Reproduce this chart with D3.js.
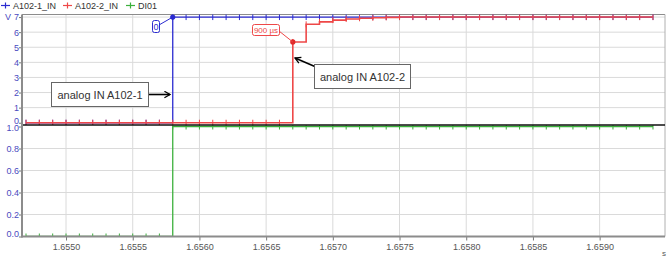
<!DOCTYPE html>
<html>
<head>
<meta charset="utf-8">
<script src="https://cdn.jsdelivr.net/npm/d3@7"></script>
<style>
  body { margin: 0; background: #fff; }
  svg { font-family: "Liberation Sans", Arial, sans-serif; }
</style>
</head>
<body>
<div id="chart"></div>
<script>
// sample times (s), one every 100 µs
var times = [1.6547, 1.6548, 1.6549, 1.6550, 1.6551, 1.6552, 1.6553, 1.6554, 1.6555, 1.6556,
  1.6557, 1.6558, 1.6559, 1.6560, 1.6561, 1.6562, 1.6563, 1.6564, 1.6565, 1.6566,
  1.6567, 1.6568, 1.6569, 1.6570, 1.6571, 1.6572, 1.6573, 1.6574, 1.6575, 1.6576,
  1.6577, 1.6578, 1.6579, 1.6580, 1.6581, 1.6582, 1.6583, 1.6584, 1.6585, 1.6586,
  1.6587, 1.6588, 1.6589, 1.6590, 1.6591, 1.6592, 1.6593, 1.6594];

// A102-1_IN (V)
var a1021 = [0, 0, 0, 0, 0, 0, 0, 0, 0, 0,
  0, 7, 7, 7, 7, 7, 7, 7, 7, 7,
  7, 7, 7, 7, 7, 7, 7, 7, 7, 7,
  7, 7, 7, 7, 7, 7, 7, 7, 7, 7,
  7, 7, 7, 7, 7, 7, 7, 7];

// A102-2_IN (V)
var a1022 = [0, 0, 0, 0, 0, 0, 0, 0, 0, 0,
  0, 0, 0, 0, 0, 0, 0, 0, 0, 0,
  5.35, 6.52, 6.68, 6.8, 6.87, 6.92, 6.95, 6.98, 7, 7,
  7, 7, 7, 7, 7, 7, 7, 7, 7, 7,
  7, 7, 7, 7, 7, 7, 7, 7];

// DI01
var di01 = [0, 0, 0, 0, 0, 0, 0, 0, 0, 0,
  0, 1, 1, 1, 1, 1, 1, 1, 1, 1,
  1, 1, 1, 1, 1, 1, 1, 1, 1, 1,
  1, 1, 1, 1, 1, 1, 1, 1, 1, 1,
  1, 1, 1, 1, 1, 1, 1, 1];

var xTicks = [1.6550, 1.6555, 1.6560, 1.6565, 1.6570, 1.6575, 1.6580, 1.6585, 1.6590];
var vTicks = [0, 1, 2, 3, 4, 5, 6, 7];
var dTicks = [0, 0.2, 0.4, 0.6, 0.8, 1.0];

var seriesNames = ['A102-1_IN', 'A102-2_IN', 'DI01'];
var seriesColors = ['#2b2bd0', '#ee4848', '#3cb03c'];

var svgWidth = 670, svgHeight = 261;
var left = 22, right = 665;
var topY = 14.5, midY = 125, bottomTop = 126.5, bottomY = 236.5;

var svg = d3.select('#chart').append('svg')
  .attr('width', svgWidth)
  .attr('height', svgHeight);

var x = d3.scaleLinear().domain([1.65467, 1.65949]).range([left, right]);
var yV = d3.scaleLinear().domain([-0.15, 7.17]).range([midY, topY]);
var yD = d3.scaleLinear().domain([0, 1]).range([bottomY, bottomTop]);

// clip areas
var defs = svg.append('defs');
defs.append('clipPath').attr('id', 'clipTop').append('rect')
  .attr('x', left).attr('y', topY).attr('width', right - left).attr('height', midY - topY);
defs.append('clipPath').attr('id', 'clipBot').append('rect')
  .attr('x', left).attr('y', midY).attr('width', right - left).attr('height', bottomY - midY);
defs.append('marker').attr('id', 'arrow')
  .attr('viewBox', '0 0 10 10').attr('refX', 8).attr('refY', 5)
  .attr('markerWidth', 5).attr('markerHeight', 5).attr('orient', 'auto')
  .append('path').attr('d', 'M1,1L8,5L1,9').attr('fill', 'none')
  .attr('stroke', '#000').attr('stroke-width', 1.6);

// grid
var grid = svg.append('g').attr('stroke', '#dadada').attr('stroke-width', 1);
grid.selectAll('.vx').data(xTicks).enter().append('line')
  .attr('x1', d => x(d)).attr('x2', d => x(d)).attr('y1', topY).attr('y2', bottomY);
grid.selectAll('.hv').data(vTicks.slice(1)).enter().append('line')
  .attr('x1', left).attr('x2', right).attr('y1', d => yV(d)).attr('y2', d => yV(d));
grid.selectAll('.hd').data(dTicks.slice(1, 5)).enter().append('line')
  .attr('x1', left).attr('x2', right).attr('y1', d => yD(d)).attr('y2', d => yD(d));

// frame
svg.append('line').attr('x1', left).attr('x2', right).attr('y1', topY).attr('y2', topY)
  .attr('stroke', '#8c8c8c');
svg.append('line').attr('x1', right).attr('x2', right).attr('y1', topY).attr('y2', bottomY)
  .attr('stroke', '#b0b0b0');

function drawSeries(g, vals, yScale, color, w) {
  var pts = times.map((t, i) => [t, vals[i]]);
  g.append('path').datum(pts)
    .attr('fill', 'none').attr('stroke', color).attr('stroke-width', w)
    .attr('d', d3.line().x(d => x(d[0])).y(d => yScale(d[1])).curve(d3.curveStepAfter));
  g.selectAll(null).data(pts).enter().append('line')
    .attr('x1', d => x(d[0])).attr('x2', d => x(d[0]))
    .attr('y1', d => yScale(d[1]) - 3).attr('y2', d => yScale(d[1]) + 3)
    .attr('stroke', color).attr('stroke-width', 1);
}

var topG = svg.append('g').attr('clip-path', 'url(#clipTop)');
drawSeries(topG, a1021, yV, seriesColors[0], 1.3);
drawSeries(topG, a1022, yV, seriesColors[1], 1.6);
var botG = svg.append('g').attr('clip-path', 'url(#clipBot)');
drawSeries(botG, di01, yD, seriesColors[2], 1.3);

// panel divider
svg.append('line').attr('x1', left).attr('x2', right).attr('y1', midY).attr('y2', midY)
  .attr('stroke', '#111').attr('stroke-width', 1.5);

// axes
var leftAxisTop = svg.append('g').attr('transform', `translate(${left},0)`)
  .call(d3.axisLeft(yV).tickValues(vTicks).tickSize(3).tickFormat(d3.format('d')));
var leftAxisBot = svg.append('g').attr('transform', `translate(${left},0)`)
  .call(d3.axisLeft(yD).tickValues(dTicks).tickSize(3).tickFormat(d3.format('.1f')));
[leftAxisTop, leftAxisBot].forEach(a => {
  a.select('.domain').remove();
  a.selectAll('line').attr('stroke', '#777');
  a.selectAll('text').attr('fill', '#4a4ac0').attr('font-size', 9)
    .attr('font-family', '"Liberation Sans", Arial, sans-serif').attr('x', -3);
});
leftAxisTop.selectAll('.tick').filter(d => d === 0).select('text').attr('dy', '0.05em');
leftAxisBot.selectAll('.tick').filter(d => d === 0).select('text').attr('dy', '0.0em');
leftAxisBot.selectAll('.tick').filter(d => d === 1).select('text').attr('dy', '0.4em');
svg.append('line').attr('x1', left).attr('x2', left).attr('y1', topY).attr('y2', bottomY + 1)
  .attr('stroke', '#8c8c8c').attr('stroke-width', 2);

var bottomAxis = svg.append('g').attr('transform', `translate(0,${bottomY})`)
  .call(d3.axisBottom(x).tickValues(xTicks).tickSize(4).tickFormat(d3.format('.4f')));
bottomAxis.select('.domain').remove();
bottomAxis.selectAll('line').attr('stroke', '#777');
bottomAxis.selectAll('text').attr('fill', '#555').attr('font-size', 9)
  .attr('font-family', '"Liberation Sans", Arial, sans-serif').attr('y', 7);
svg.append('line').attr('x1', left).attr('x2', right).attr('y1', bottomY).attr('y2', bottomY)
  .attr('stroke', '#8c8c8c').attr('stroke-width', 2);

svg.append('text').attr('x', 5).attr('y', yV(7) + 3).attr('font-size', 9)
  .attr('fill', '#4a4ac0').text('V');
svg.append('text').attr('x', 662).attr('y', 256).attr('font-size', 8)
  .attr('fill', '#555').text('s');

// legend
var legend = svg.append('g');
var legX = [1, 63, 126];
seriesNames.forEach((name, i) => {
  var g = legend.append('g').attr('transform', `translate(${legX[i]},5.5)`);
  g.append('line').attr('x1', 0).attr('x2', 9).attr('y1', 0).attr('y2', 0)
    .attr('stroke', seriesColors[i]).attr('stroke-width', 1.2);
  g.append('line').attr('x1', 4.5).attr('x2', 4.5).attr('y1', -3).attr('y2', 3)
    .attr('stroke', seriesColors[i]).attr('stroke-width', 1.2);
  g.append('text').attr('x', 12).attr('y', 3.2).attr('font-size', 9).attr('fill', '#333').text(name);
});

// jump markers and labels
var jump1 = [times[11], a1021[11]];
var jump2 = [times[20], a1022[20]];
svg.append('circle').attr('cx', x(jump1[0])).attr('cy', yV(jump1[1])).attr('r', 2.6)
  .attr('fill', seriesColors[0]);
svg.append('circle').attr('cx', x(jump2[0])).attr('cy', yV(jump2[1])).attr('r', 2.6)
  .attr('fill', '#e02a2a');

svg.append('line').attr('x1', 159).attr('y1', 25).attr('x2', x(jump1[0])).attr('y2', yV(jump1[1]))
  .attr('stroke', seriesColors[0]);
svg.append('rect').attr('x', 152.5).attr('y', 20.5).attr('width', 7).attr('height', 12).attr('rx', 2)
  .attr('fill', '#fff').attr('stroke', seriesColors[0]);
svg.append('text').attr('x', 156).attr('y', 30).attr('text-anchor', 'middle').attr('font-size', 9)
  .attr('fill', seriesColors[0]).text('0');

svg.append('line').attr('x1', 279).attr('y1', 31).attr('x2', x(jump2[0])).attr('y2', yV(jump2[1]))
  .attr('stroke', seriesColors[1]);
svg.append('rect').attr('x', 252.5).attr('y', 24.5).attr('width', 27).attr('height', 11).attr('rx', 2)
  .attr('fill', '#fff').attr('stroke', seriesColors[1]);
svg.append('text').attr('x', 266).attr('y', 33).attr('text-anchor', 'middle').attr('font-size', 8)
  .attr('fill', seriesColors[1]).text('900 µs');

// callouts
function callout(bx, by, bw, bh, label, ax1, ay1, ax2, ay2) {
  svg.append('line').attr('x1', ax1).attr('y1', ay1).attr('x2', ax2).attr('y2', ay2)
    .attr('stroke', '#000').attr('stroke-width', 1.6).attr('marker-end', 'url(#arrow)');
  svg.append('rect').attr('x', bx).attr('y', by).attr('width', bw).attr('height', bh)
    .attr('fill', '#fff').attr('stroke', '#666');
  svg.append('text').attr('x', bx + bw / 2).attr('y', by + bh / 2 + 4).attr('text-anchor', 'middle')
    .attr('font-size', 11).attr('fill', '#333').text(label);
}
callout(51.5, 82.5, 97, 24, 'analog IN A102-1', 148, 94.5, 170, 94.5);
callout(314.5, 64.5, 96, 24, 'analog IN A102-2', 316, 67, 295, 58);
</script>
</body>
</html>
